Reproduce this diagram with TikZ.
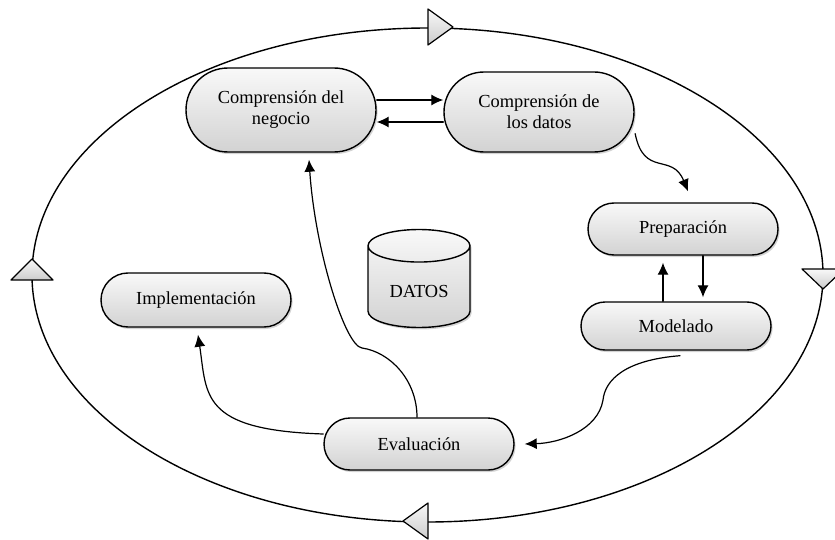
\documentclass[tikz,border=0pt]{standalone}
\usepackage{fontspec}
\setmainfont{Liberation Serif}
\usetikzlibrary{shapes.misc,shapes.geometric,shadows,arrows.meta}
\begin{document}
\begin{tikzpicture}[x=0.5pt, y=-0.5pt, font=\fontsize{9.2}{10.5}\selectfont, line join=round, line cap=round, >={Latex[length=6pt,width=5.5pt]},
		fase/.style={rounded rectangle, draw, line width=0.7pt, top color=gray!5, bottom color=gray!35, drop shadow={shadow xshift=0.8pt, shadow yshift=-1pt, opacity=0.35}, minimum width=99pt, minimum height=26pt, align=center, inner sep=2pt},
		flecha/.style={->, line width=0.6pt},
		punta/.style={draw, line width=0.6pt, top color=gray!5, bottom color=gray!40}]
					\useasboundingbox (0,0) rectangle (835,540);
					\draw[line width=0.7pt] (427.5,275) ellipse [x radius=395.5, y radius=247];
					\draw[punta] (428,9) -- (453,27) -- (428,45) -- cycle;
					\draw[punta] (802,269) -- (844,269) -- (823,289) -- cycle;
					\draw[punta] (428,503) -- (428,539) -- (403,521) -- cycle;
					\draw[punta] (11,280) -- (53,280) -- (32,259) -- cycle;
					\node[fase, minimum height=42pt] (CN) at (281,110) {Comprensión del\\negocio};
					\node[fase, minimum height=40pt] (CD) at (539,112) {Comprensión de\\los datos};
					\node[fase] (PR) at (683,229) {Preparación};
					\node[fase, minimum height=24pt] (MO) at (676,326) {Modelado};
					\node[fase] (EV) at (419,444) {Evaluación};
					\node[fase, minimum height=27pt] (IM) at (196,300) {Implementación};
					\node[cylinder, shape border rotate=90, aspect=0.45, draw, line width=0.7pt, top color=gray!5, bottom color=gray!35, drop shadow={shadow xshift=0.8pt, shadow yshift=-1pt, opacity=0.35}, minimum width=51pt, minimum height=49pt] (BD) at (419,291) {DATOS};
					\draw[flecha] ([yshift=5pt]CN.east) -- ([yshift=5pt]CN.east -| CD.west);
					\draw[flecha] ([yshift=-5pt]CD.west) -- ([yshift=-5pt]CD.west -| CN.east);
					\draw[flecha] ([xshift=4pt,yshift=1pt]CD.-15) .. controls (644,178) and (672,152) .. ([xshift=2.5pt,yshift=5.5pt]PR.north);
					\draw[flecha, shorten >=2pt] ([xshift=10pt]PR.south) -- ([xshift=10pt]PR.south |- MO.north);
					\draw[flecha, shorten >=3.5pt] ([xshift=-6.5pt]MO.north) -- ([xshift=-6.5pt]MO.north |- PR.south);
					\draw[flecha] ([xshift=2pt,yshift=-2.5pt]MO.south) .. controls (625,360) and (605,380) .. (603,400) .. controls (598,430) and (560,443) .. ([xshift=5pt]EV.east);
					\draw[flecha] ([yshift=5pt]EV.west) .. controls (200,430) and (207,395) .. ([xshift=1pt,yshift=-3.5pt]IM.south);
					\draw[flecha] ([xshift=-1pt]EV.north) .. controls (417,380) and (390,352) .. (362,348) .. controls (345,346) and (315,250) .. ([xshift=14pt,yshift=-3.5pt]CN.south);
			\end{tikzpicture}
\end{document}
